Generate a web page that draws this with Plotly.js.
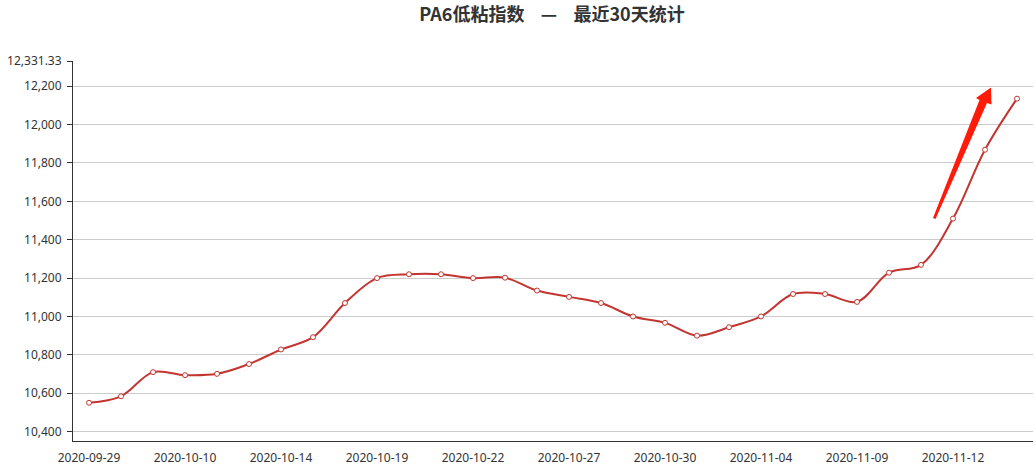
<!DOCTYPE html>
<html>
<head>
<meta charset="utf-8">
<script src="https://cdn.plot.ly/plotly-3.0.1.min.js"></script>
<style>
html,body{margin:0;padding:0;background:#fff;}
#chart{width:1035px;height:468px;}
</style>
</head>
<body>
<div id="chart"></div>
<script>
const dates = ["2020-09-29","2020-09-30","2020-10-09","2020-10-10","2020-10-12","2020-10-13","2020-10-14","2020-10-15","2020-10-16","2020-10-19","2020-10-20","2020-10-21","2020-10-22","2020-10-23","2020-10-26","2020-10-27","2020-10-28","2020-10-29","2020-10-30","2020-11-02","2020-11-03","2020-11-04","2020-11-05","2020-11-06","2020-11-09","2020-11-10","2020-11-11","2020-11-12","2020-11-13","2020-11-16"];
const values = [10550,10584,10710,10694,10701,10752,10828,10892,11070,11200,11220,11220,11200,11202,11135,11102,11070,11000,10967,10900,10944,11000,11117,11117,11076,11228,11269,11510,11869,12135];
const shownDates = ["2020-09-29","2020-10-10","2020-10-14","2020-10-19","2020-10-22","2020-10-27","2020-10-30","2020-11-04","2020-11-09","2020-11-12"];
const yTicks = [10400,10600,10800,11000,11200,11400,11600,11800,12000,12200,12331.33];
const yTickText = ["10,400","10,600","10,800","11,000","11,200","11,400","11,600","11,800","12,000","12,200","12,331.33"];
const yMin = 10351, yMax = 12331.33;
const titleText = "PA6低粘指数 &nbsp;&nbsp;&nbsp;—&nbsp;&nbsp;&nbsp; 最近30天统计";

// tick marks sit between labelled categories (every 3rd, offset by 1.5)
const tickMarks = [];
for (let i = 1.5; i < dates.length - 0.5; i += 3) tickMarks.push(i);

const M = {l:73, r:2, t:61, b:27};
const W = 1035, H = 468;
const pw = W - M.l - M.r, ph = H - M.t - M.b;
function px(x){ return (x - M.l) / pw; }
function py(y){ return (H - M.b - y) / ph; }
const arrowPts = [[933,218],[979.5,100],[976,98],[991,87.5],[991.5,104.5],[987,103],[935.5,219]];
const arrowPath = arrowPts.map((p,i)=>(i?'L ':'M ')+px(p[0]).toFixed(5)+','+py(p[1]).toFixed(5)).join(' ')+' Z';

const font = '"Noto Sans", "Noto Sans CJK SC", sans-serif';

Plotly.newPlot('chart', [{
  type:'scatter', mode:'lines+markers',
  x: dates, y: values,
  line:{color:'#c23531', width:2, shape:'spline', smoothing:1},
  marker:{symbol:'circle', size:5, color:'#ffffff', line:{color:'#c23531', width:1}},
  hoverinfo:'x+y'
}], {
  width: W, height: H,
  margin: M,
  paper_bgcolor:'#fff', plot_bgcolor:'#fff',
  showlegend:false,
  title:{text:titleText, x:552/1035, xanchor:'center', y:1-15/468, yanchor:'middle',
         font:{family:'"Noto Sans CJK SC", sans-serif', size:18, color:'#333', weight:'bold'}},
  xaxis:{type:'category', range:[-0.5, dates.length-0.5], tickmode:'array', tickvals:shownDates, ticktext:shownDates,
         tickangle:0, ticks:'', ticklabelstandoff:6,
         showline:true, linecolor:'#333', linewidth:1, showgrid:false, zeroline:false,
         tickfont:{family:font, size:12, color:'#333'}, fixedrange:true},
  xaxis2:{overlaying:'x', anchor:'y', side:'bottom', range:[-0.5, dates.length-0.5], tickmode:'array',
          tickvals:tickMarks, showticklabels:false, ticks:'outside', ticklen:5, tickcolor:'#333', tickwidth:1,
          showline:false, showgrid:false, zeroline:false, fixedrange:true},
  yaxis:{range:[yMin, yMax], tickmode:'array', tickvals:yTicks, ticktext:yTickText,
         ticks:'outside', ticklen:5, tickcolor:'#333', tickwidth:1,
         showline:true, linecolor:'#333', linewidth:1, showgrid:true, gridcolor:'#ccc', gridwidth:1, zeroline:false,
         tickfont:{family:font, size:12, color:'#333'}, ticklabelstandoff:3, fixedrange:true},
  shapes:[{type:'path', xref:'paper', yref:'paper', path:arrowPath, fillcolor:'#ff1a0a', line:{width:0}}]
}, {displayModeBar:false, staticPlot:true});
</script>
</body>
</html>
